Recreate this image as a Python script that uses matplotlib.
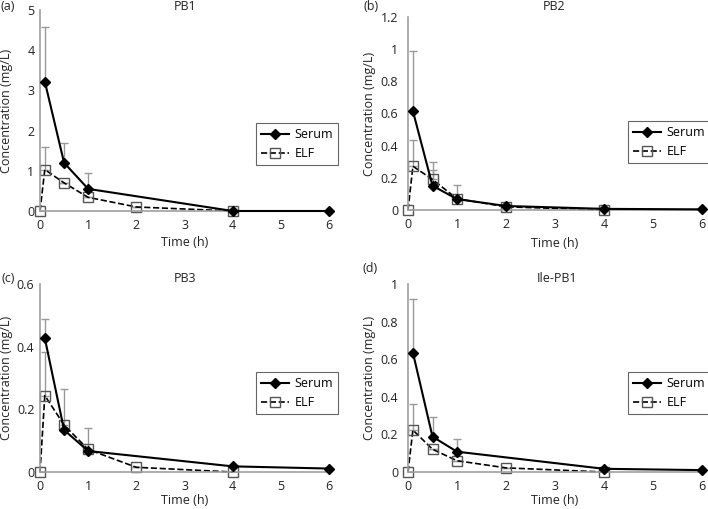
import numpy as np
import matplotlib.pyplot as plt

plt.rcParams['font.family'] = ['Open Sans', 'DejaVu Sans']
plt.rcParams['font.size'] = 9

# sampling times (h)
t_serum = [0.1, 0.5, 1, 2, 4, 6]
t_elf = [0, 0.1, 0.5, 1, 2, 4]

# PB1
pb1_serum = [3.22, 1.20, 0.55, np.nan, 0.0, 0.0]
pb1_serum_hi = [4.57, 1.68, 0.94, np.nan, np.nan, np.nan]
pb1_elf = [0.0, 1.03, 0.70, 0.34, 0.10, 0.0]
pb1_elf_hi = [np.nan, 1.58, np.nan, np.nan, np.nan, np.nan]

# PB2
pb2_serum = [0.615, 0.151, 0.068, 0.025, 0.007, 0.004]
pb2_serum_hi = [0.99, 0.248, 0.155, np.nan, np.nan, np.nan]
pb2_elf = [0.0, 0.272, 0.19, 0.07, 0.02, 0.0]
pb2_elf_hi = [np.nan, 0.435, 0.296, np.nan, np.nan, np.nan]

# PB3
pb3_serum = [0.427, 0.134, 0.067, np.nan, 0.018, 0.011]
pb3_serum_hi = [0.487, np.nan, np.nan, np.nan, np.nan, np.nan]
pb3_elf = [0.0, 0.244, 0.15, 0.072, 0.015, 0.0]
pb3_elf_hi = [np.nan, 0.384, 0.264, 0.139, np.nan, np.nan]

# Ile-PB1
ile_serum = [0.635, 0.188, 0.108, np.nan, 0.017, 0.01]
ile_serum_hi = [0.918, 0.291, 0.176, np.nan, np.nan, np.nan]
ile_elf = [0.0, 0.223, 0.121, 0.06, 0.022, 0.0]
ile_elf_hi = [np.nan, 0.36, np.nan, np.nan, np.nan, np.nan]

panels = [
    ('(a)', 'PB1', pb1_serum, pb1_serum_hi, pb1_elf, pb1_elf_hi, np.arange(0, 5.01, 1)),
    ('(b)', 'PB2', pb2_serum, pb2_serum_hi, pb2_elf, pb2_elf_hi, np.arange(0, 1.21, 0.2)),
    ('(c)', 'PB3', pb3_serum, pb3_serum_hi, pb3_elf, pb3_elf_hi, np.arange(0, 0.61, 0.2)),
    ('(d)', 'Ile-PB1', ile_serum, ile_serum_hi, ile_elf, ile_elf_hi, np.arange(0, 1.01, 0.2)),
]

W, H = 708, 509
fig = plt.figure(figsize=(7.08, 5.09), dpi=100)

# axes boxes in pixels: left, right, top, bottom
boxes = [(40, 329, 10, 211), (408, 702, 17, 210), (40, 329, 284, 472), (408, 702, 284, 472)]
titles_xy = [(185, 6), (554, 6), (185, 279), (557, 279)]
labels_xy = [(8, 6), (371, 6), (8, 279), (370, 269)]
legend_xy = [(256, 123), (628, 121), (256, 372), (628, 372)]
ylab_x = [7, 369, 7, 369]
xlab_y = [243, 243, 501, 501]
ypads = [4, 7, 4, 7]

spine_col = '#a0a0a0'
err_col = '#999999'

for i, (lab, name, s, s_hi, e, e_hi, yt) in enumerate(panels):
    l, r, top, bot = boxes[i]
    ax = fig.add_axes([l / W, 1 - bot / H, (r - l) / W, (bot - top) / H])
    s = np.array(s)
    e = np.array(e)
    s_up = np.nan_to_num(np.array(s_hi) - s)
    e_up = np.nan_to_num(np.array(e_hi) - e)

    ax.errorbar(t_elf, e, yerr=[np.zeros_like(e), e_up], fmt='none', ecolor=err_col,
                elinewidth=1, capsize=3, capthick=1, zorder=1)
    ax.errorbar(t_serum, s, yerr=[np.zeros_like(s), s_up], fmt='none', ecolor=err_col,
                elinewidth=1, capsize=3, capthick=1, zorder=1)

    ms = ~np.isnan(s)
    ax.plot(np.array(t_elf), e, linestyle='--', color='black', lw=1.2, marker='s',
            markersize=7, markerfacecolor='none', markeredgecolor='#555555',
            markeredgewidth=1, label='ELF', zorder=2, clip_on=False)
    ax.plot(np.array(t_serum)[ms], s[ms], linestyle='-', color='black', lw=1.5, marker='D',
            markersize=5.5, label='Serum', zorder=3, clip_on=False)

    ax.set_xlim(0, 6)
    ax.set_ylim(0, yt[-1])
    ax.set_xticks(range(0, 7))
    ax.set_yticks(yt)
    ax.set_yticklabels(['%g' % round(v, 1) for v in yt])
    ax.tick_params(length=0, labelsize=9, colors='#222222')
    ax.tick_params(axis='x', pad=6)
    ax.tick_params(axis='y', pad=ypads[i])
    for sp in ['top', 'right']:
        ax.spines[sp].set_visible(False)
    for sp in ['left', 'bottom']:
        ax.spines[sp].set_color(spine_col)
        ax.spines[sp].set_linewidth(1.2)

    ax.set_ylabel('Concentration (mg/L)', color='#222222', va='center')
    ax.yaxis.set_label_coords((ylab_x[i] - l) / (r - l), 0.5)
    ax.set_xlabel('Time (h)', color='#222222', va='center')
    ax.xaxis.set_label_coords(0.5, (bot - xlab_y[i]) / (bot - top))

    fig.text(titles_xy[i][0] / W, 1 - titles_xy[i][1] / H, name, ha='center', va='center', color='#222222')
    fig.text(labels_xy[i][0] / W, 1 - labels_xy[i][1] / H, lab, ha='center', va='center', color='#222222')

    handles, labels = ax.get_legend_handles_labels()
    leg = ax.legend(handles[::-1], labels[::-1], loc='upper left',
                    bbox_to_anchor=(legend_xy[i][0] / W, 1 - legend_xy[i][1] / H),
                    bbox_transform=fig.transFigure, fancybox=False, framealpha=1,
                    edgecolor='#666666', handlelength=2.2, borderpad=0.4,
                    labelspacing=0.5, handletextpad=0.5, borderaxespad=0)
    leg.get_frame().set_linewidth(0.8)

fig.savefig('out.png', dpi=100)
